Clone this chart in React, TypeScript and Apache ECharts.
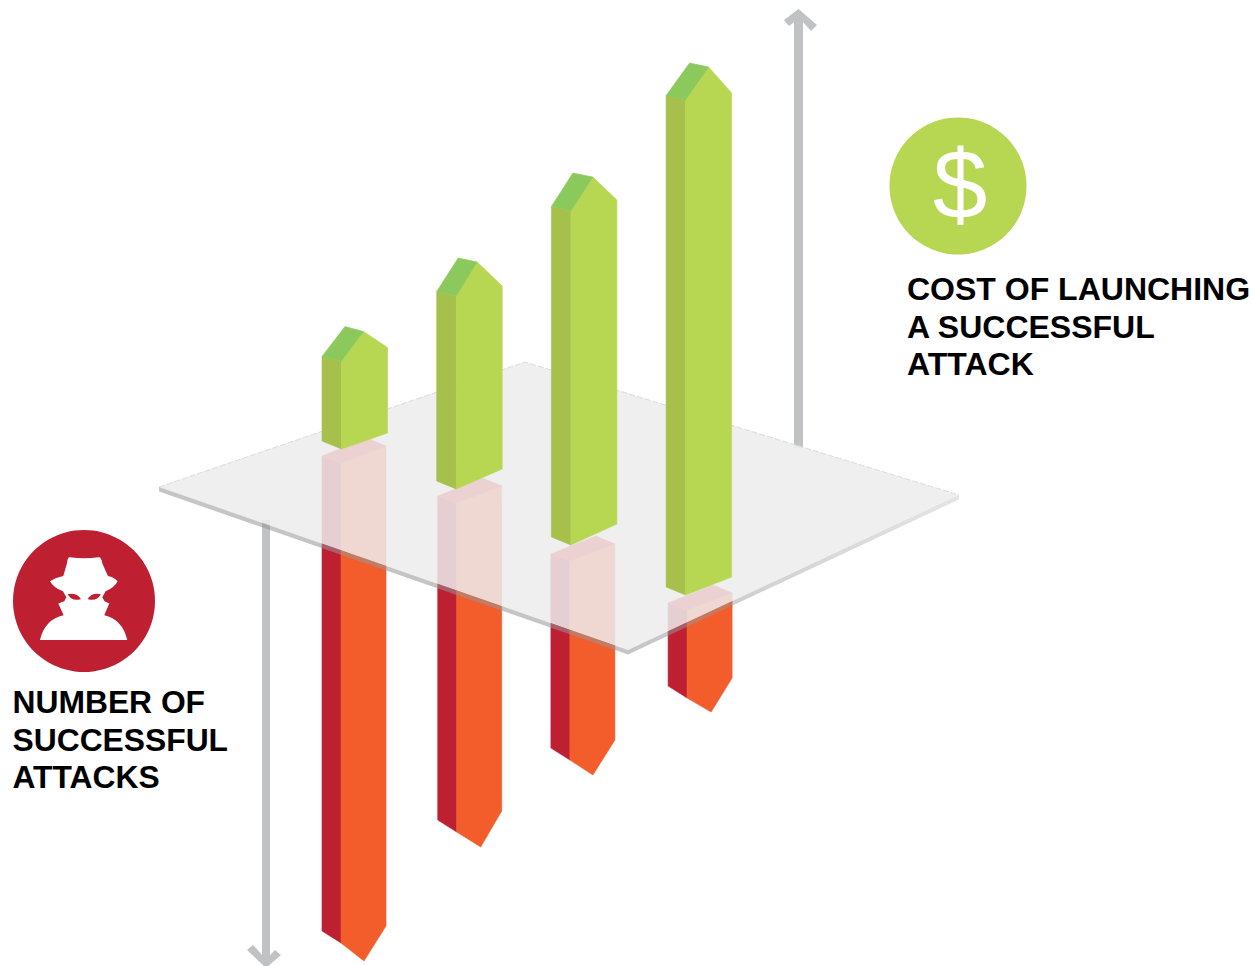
import React, { useEffect, useRef } from "react";
import * as echarts from "echarts";

// Columns standing on the tilted plane, from front left to back right.
const columns = ["A", "B", "C", "D"];
const costOfLaunching = [88, 193, 334, 495];
const successfulAttacks = [480, 329, 199, 88];
// Height of the plane in axis units at each column: the plane falls away towards the viewer.
const costLevel = [34, -6, -62, -112];
const attackLevel = [20, -20, -78, -127];

const costLabelLines = ["COST OF LAUNCHING", "A SUCCESSFUL", "ATTACK"];
const attackLabelLines = ["NUMBER OF", "SUCCESSFUL", "ATTACKS"];

const WIDTH = 1253;
const HEIGHT = 966;

const GREEN_FRONT = "#b7d652";
const GREEN_SIDE = "#a6c04b";
const GREEN_CAP = "#8cc95c";
const ORANGE_FRONT = "#f35d2b";
const RED_SIDE = "#be2032";
const RED_CAP = "#e5303c";
const ARROW = "#c1c2c4";

// Pointed cap offsets for each green column, measured from the front top corner.
const greenPeak = [[22, -29.5], [21, -34], [22, -34], [23, -33]];
const greenBack = [[3.5, -34.5], [2, -38], [2, -38], [4, -37]];
const greenRightTop = [13.5, 10, 11, 7];
const greenRightBase = [16, 20, 21, 18];
// Red columns sit slightly off the green ones; tips are measured from the front bottom corner.
const redShift = [-0.5, 0.5, -1, 1.5];
const redTip = [[23, 18], [24, 15], [23, 15], [24, 14]];
const redRightBase = [17, 21, 20, 20];

const SPY_PATH =
  "M104,22 Q148,28 192,22 Q199,22 202,40 L219,78 Q238,82 248,94 Q238,114 212,124 L202,142 L209,154 L223,161 L208,196 " +
  "Q262,208 277,270 L15,270 Q30,208 86,196 L70,161 L88,154 L94,142 L84,124 Q56,114 45,94 Q62,82 85,78 L96,40 Q98,22 104,22 Z";
const SPY_EYES =
  "M98,133 Q125,127 138,147 Q112,156 98,133 Z M198,133 Q171,127 158,147 Q184,156 198,133 Z";

echarts.graphic.registerShape("spyFigure", echarts.graphic.extendPath(SPY_PATH, {}) as any);
echarts.graphic.registerShape("spyEyes", echarts.graphic.extendPath(SPY_EYES, {}) as any);

// A face of a column; the hairline stroke closes the seams between neighbouring faces.
function face(points: number[][], color: string) {
  return {
    type: "polygon",
    shape: { points },
    style: { fill: color, stroke: color, lineWidth: 0.6 },
  };
}

function renderCost(params: any, api: any) {
  const i = params.dataIndex;
  const [fx, baseY] = api.coord([api.value(0), api.value(1)]);
  const topY = api.coord([api.value(0), api.value(1) + api.value(2)])[1];
  const L = fx - 19.5;
  const R = fx + 46;
  const leftFace = [[L, baseY - 8], [fx, baseY], [fx, topY], [L, topY - 4.5]];
  const frontFace = [
    [fx, baseY],
    [R, baseY - greenRightBase[i]],
    [R, topY - greenRightTop[i]],
    [fx + greenPeak[i][0], topY + greenPeak[i][1]],
    [fx, topY],
  ];
  const cap = [
    [L, topY - 4.5],
    [fx + greenBack[i][0], topY + greenBack[i][1]],
    [fx + greenPeak[i][0], topY + greenPeak[i][1]],
    [fx, topY],
  ];
  return {
    type: "group",
    children: [face(leftFace, GREEN_SIDE), face(frontFace, GREEN_FRONT), face(cap, GREEN_CAP)],
  };
}

function renderAttacks(params: any, api: any) {
  const i = params.dataIndex;
  const [cx, topY] = api.coord([api.value(0), api.value(1)]);
  const baseY = api.coord([api.value(0), api.value(1) - api.value(2)])[1];
  const fx = cx + redShift[i];
  const L = fx - 19;
  const R = fx + 45;
  const leftFace = [[L, topY - 7], [fx, topY], [fx, baseY], [L, baseY - 12]];
  const frontFace = [
    [fx, topY],
    [R, topY - 17],
    [R, baseY - redRightBase[i]],
    [fx + redTip[i][0], baseY + redTip[i][1]],
    [fx, baseY],
  ];
  const cap = [[L, topY - 7], [fx + 26, topY - 25], [R, topY - 17], [fx, topY]];
  return {
    type: "group",
    children: [face(leftFace, RED_SIDE), face(frontFace, ORANGE_FRONT), face(cap, RED_CAP)],
  };
}

function labelLines(lines: string[], x: number, firstY: number, size: number) {
  return lines.map((text, k) => ({
    type: "text",
    x,
    y: firstY + k * 37.7,
    z: 20,
    style: {
      text,
      fill: "#000000",
      font: `bold ${size}px "Liberation Sans", Arial, sans-serif`,
      align: "left",
      verticalAlign: "middle",
    },
  }));
}

function buildOption() {
  return {
    animation: false,
    backgroundColor: "#ffffff",
    grid: { left: 284.15, width: 458.8, top: 0, height: HEIGHT, containLabel: false },
    xAxis: { type: "category", data: columns, show: false },
    yAxis: { type: "value", min: -HEIGHT / 2, max: HEIGHT / 2, show: false, splitLine: { show: false } },
    series: [
      {
        name: "Number of successful attacks",
        type: "custom",
        z: 2,
        clip: false,
        renderItem: renderAttacks,
        encode: { x: 0, y: 1 },
        data: columns.map((c, i) => [i, attackLevel[i], successfulAttacks[i]]),
      },
      {
        name: "Cost of launching a successful attack",
        type: "custom",
        z: 10,
        clip: false,
        renderItem: renderCost,
        encode: { x: 0, y: 1 },
        data: columns.map((c, i) => [i, costLevel[i], costOfLaunching[i]]),
      },
    ],
    graphic: {
      elements: [
        // Axis arrows, tucked under the plane
        {
          type: "polygon",
          z: 1,
          shape: {
            points: [
              [798.5, 9], [817, 25], [811, 31], [803, 22], [803, 448],
              [794, 448], [794, 22], [789, 26], [784, 20],
            ],
          },
          style: { fill: ARROW },
        },
        {
          type: "polygon",
          z: 1,
          shape: {
            points: [
              [262, 520], [270, 520], [270, 955], [275, 950], [281, 955],
              [266, 968], [247, 950], [253, 945], [262, 955],
            ],
          },
          style: { fill: ARROW },
        },
        // Translucent plane
        {
          type: "polygon",
          z: 5,
          shape: { points: [[159, 487], [525, 362], [959, 495], [628, 650]] },
          style: { fill: "rgba(236,236,236,0.86)" },
        },
        {
          type: "polyline",
          z: 6,
          shape: { points: [[159, 487], [525, 362], [959, 495]] },
          style: { stroke: "#dcdcdc", lineWidth: 1, fill: "none", lineDash: [6, 2] },
        },
        {
          type: "polygon",
          z: 6,
          shape: { points: [[159, 487], [628, 650], [628, 654.5], [159, 491.5]] },
          style: { fill: "rgba(150,150,150,0.55)" },
        },
        {
          type: "polygon",
          z: 6,
          shape: { points: [[628, 650], [959, 495], [959, 499.5], [628, 654.5]] },
          style: {
            fill: {
              type: "linear",
              x: 0,
              y: 0,
              x2: 1,
              y2: 0,
              colorStops: [
                { offset: 0, color: "rgba(150,150,150,0.55)" },
                { offset: 1, color: "rgba(150,150,150,0.25)" },
              ],
            },
          },
        },
        // Badge for cost
        { type: "circle", z: 20, shape: { cx: 958, cy: 186, r: 68.5 }, style: { fill: GREEN_FRONT } },
        {
          type: "text",
          x: 960,
          y: 184,
          z: 21,
          style: {
            text: "$",
            fill: "#ffffff",
            font: '98px "Liberation Sans", Arial, sans-serif',
            align: "center",
            verticalAlign: "middle",
          },
        },
        // Badge for attacks
        { type: "circle", z: 20, shape: { cx: 84, cy: 601, r: 71 }, style: { fill: RED_SIDE } },
        { type: "spyFigure", x: 35, y: 550, scaleX: 1 / 3, scaleY: 1 / 3, z: 21, style: { fill: "#ffffff" } },
        { type: "spyEyes", x: 35, y: 550, scaleX: 1 / 3, scaleY: 1 / 3, z: 22, style: { fill: RED_SIDE } },
        ...labelLines(costLabelLines, 907, 289, 32),
        ...labelLines(attackLabelLines, 12.5, 702, 31.8),
      ],
    },
  };
}

export default function App() {
  const ref = useRef<HTMLDivElement>(null);
  useEffect(() => {
    const chart = echarts.init(ref.current!, null, { renderer: "svg" });
    chart.setOption(buildOption() as any);
    return () => chart.dispose();
  }, []);
  return (
    <div
      ref={ref}
      style={{ position: "absolute", left: 0, top: 0, width: WIDTH, height: HEIGHT, overflow: "hidden" }}
    />
  );
}
